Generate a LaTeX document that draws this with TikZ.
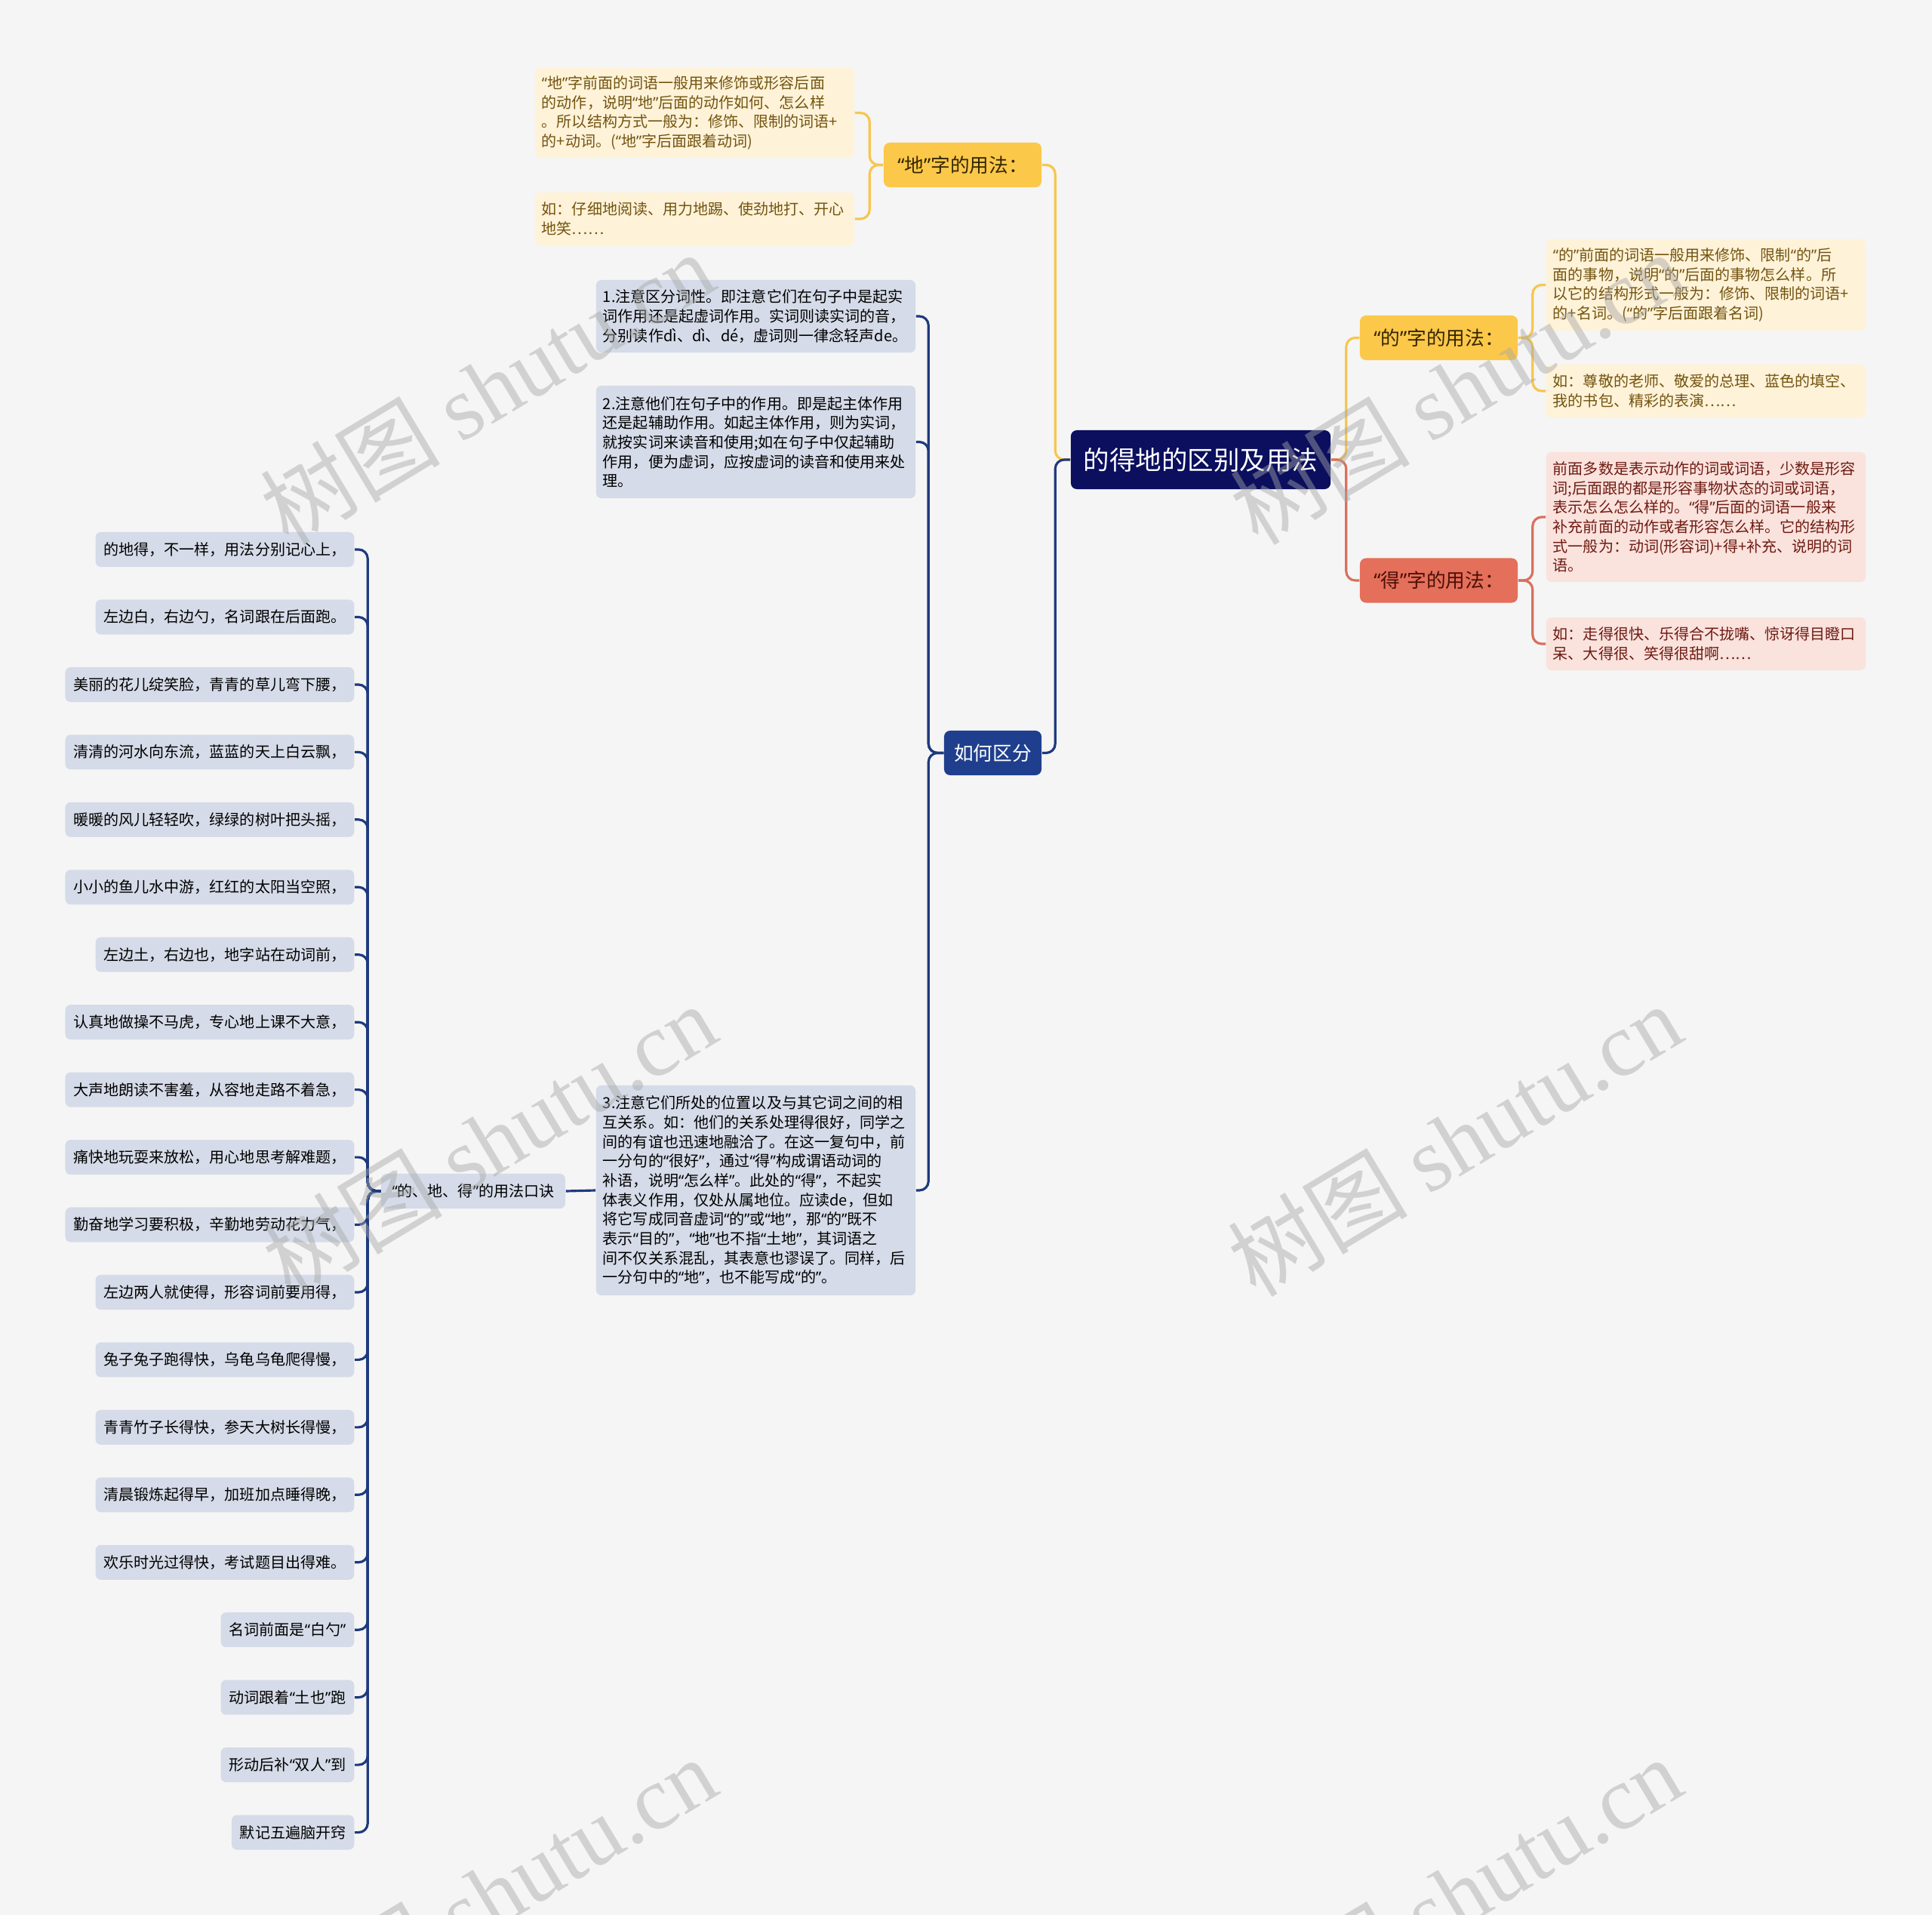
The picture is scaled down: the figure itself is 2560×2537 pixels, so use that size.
\documentclass[tikz,border=0pt]{standalone}
\usepackage{fontspec}
\setmainfont{Noto Sans CJK SC}
\newfontfamily\markfont{Liberation Serif}
\newfontfamily\quotefont{Noto Sans}
\usepackage{xcolor}
\definecolor{paper}{HTML}{F5F5F5}
\definecolor{rootcol}{HTML}{0B0F5E}
\definecolor{howcol}{HTML}{1F3F8E}
\definecolor{navyline}{HTML}{1E3A7E}
\definecolor{greyblue}{HTML}{D5DBE8}
\definecolor{gold}{HTML}{FCC84A}
\definecolor{goldline}{HTML}{F6C64F}
\definecolor{goldtext}{HTML}{332600}
\definecolor{cream}{HTML}{FEF2D8}
\definecolor{creamtext}{HTML}{735410}
\definecolor{salmon}{HTML}{E46F5A}
\definecolor{salmonline}{HTML}{D8705D}
\definecolor{salmontext}{HTML}{4A1008}
\definecolor{blush}{HTML}{FAE2DD}
\definecolor{blushtext}{HTML}{6E1B12}
\usepackage{tikz}
\usetikzlibrary{positioning}
\tikzset{%
    branch/.style={%
        rounded corners=0.08cm, inner sep=0, font=\fontsize{7.3}{9}\selectfont,
        minimum width=2.09cm, minimum height=0.59cm
    },
    note/.style={%
        rounded corners=0.07cm, inner xsep=0.09cm, inner ysep=0, text width=4.05cm,
        align=left, font=\fontsize{5.7}{7.3}\selectfont
    },
    verse/.style={%
        fill=greyblue, rounded corners=0.07cm, inner xsep=0.11cm, inner ysep=0,
        minimum height=0.46cm, anchor=east, font=\fontsize{5.7}{7.3}\selectfont
    },
    link/.style={%
        line width=0.9pt, rounded corners=0.12cm
    },
    watermark/.style={%
        rotate=31, text=black!35, text opacity=0.45, font=\fontsize{34}{40}\selectfont
    }
}
% narrow curly quotes, as in the mind map
\catcode`“=\active
\catcode`”=\active
\def“{{\quotefont\char"201C}}
\def”{{\quotefont\char"201D}}

\begin{document}
\begin{tikzpicture}[x=0.01cm, y=-0.01cm]
    \fill[paper] (0,0) rectangle (2560,2537);
    \useasboundingbox (0,0) rectangle (2560,2537);

    \node[fill=rootcol, text=white, rounded corners=0.08cm, inner sep=0, minimum width=3.44cm, minimum height=0.78cm, font=\fontsize{9.8}{12}\selectfont] (root) at (1591,609) {的得地的区别及用法};

    % main branches
    \node[branch, fill=gold, text=goldtext] (di) at (1275.5,218.5) {“地”字的用法：};
    \node[branch, fill=gold, text=goldtext] (de) at (1906.5,447.5) {“的”字的用法：};
    \node[branch, fill=salmon, text=salmontext] (dei) at (1906.5,769) {“得”字的用法：};
    \node[branch, fill=howcol, text=white, minimum width=1.29cm] (how) at (1315.5,997.5) {如何区分};

    \node[note, fill=cream, text=creamtext, minimum height=1.19cm] (di1) at (920.5,149.5) {“地”字前面的词语一般用来修饰或形容后面\\的动作，说明“地”后面的动作如何、怎么样\\。所以结构方式一般为：修饰、限制的词语+\\的+动词。(“地”字后面跟着动词)};
    \node[note, fill=cream, text=creamtext, minimum height=0.70cm] (di2) at (920.5,290) {如：仔细地阅读、用力地踢、使劲地打、开心\\地笑……};
    \node[note, fill=cream, text=creamtext, minimum height=1.21cm] (de1) at (2260.5,377.5) {“的”前面的词语一般用来修饰、限制“的”后\\面的事物，说明“的”后面的事物怎么样。所\\以它的结构形式一般为：修饰、限制的词语+\\的+名词。(“的”字后面跟着名词)};
    \node[note, fill=cream, text=creamtext, minimum height=0.70cm] (de2) at (2260.5,518) {如：尊敬的老师、敬爱的总理、蓝色的填空、\\我的书包、精彩的表演……};
    \node[note, fill=blush, text=blushtext, minimum height=1.72cm] (dei1) at (2260.5,685) {前面多数是表示动作的词或词语，少数是形容\\词;后面跟的都是形容事物状态的词或词语，\\表示怎么怎么样的。“得”后面的词语一般来\\补充前面的动作或者形容怎么样。它的结构形\\式一般为：动词(形容词)+得+补充、说明的词\\语。};
    \node[note, fill=blush, text=blushtext, minimum height=0.70cm] (dei2) at (2260.5,853) {如：走得很快、乐得合不拢嘴、惊讶得目瞪口\\呆、大得很、笑得很甜啊……};

    \node[note, fill=greyblue, minimum height=0.96cm] (how1) at (1001.5,419) {1.注意区分词性。即注意它们在句子中是起实\\词作用还是起虚词作用。实词则读实词的音，\\分别读作dì、dì、dé，虚词则一律念轻声de。};
    \node[note, fill=greyblue, minimum height=1.49cm] (how2) at (1001.5,585.5) {2.注意他们在句子中的作用。即是起主体作用\\还是起辅助作用。如起主体作用，则为实词，\\就按实词来读音和使用;如在句子中仅起辅助\\作用，便为虚词，应按虚词的读音和使用来处\\理。};
    \node[note, fill=greyblue, minimum height=2.78cm] (how3) at (1001.5,1577) {3.注意它们所处的位置以及与其它词之间的相\\互关系。如：他们的关系处理得很好，同学之\\间的有谊也迅速地融洽了。在这一复句中，前\\一分句的“很好”，通过“得”构成谓语动词的\\补语，说明“怎么样”。此处的“得”，不起实\\体表义作用，仅处从属地位。应读de，但如\\将它写成同音虚词“的”或“地”，那“的”既不\\表示“目的”，“地”也不指“土地”，其词语之\\间不仅关系混乱，其表意也谬误了。同样，后\\一分句中的“地”，也不能写成“的”。};

    \node[verse, anchor=center, minimum width=2.44cm] (rhyme) at (627,1578) {“的、地、得”的用法口诀};

    % rhyme lines
    \node[verse] (r1) at (470,728) {的地得，不一样，用法分别记心上，};
    \node[verse] (r2) at (470,817.5) {左边白，右边勺，名词跟在后面跑。};
    \node[verse] (r3) at (470,907) {美丽的花儿绽笑脸，青青的草儿弯下腰，};
    \node[verse] (r4) at (470,996.4) {清清的河水向东流，蓝蓝的天上白云飘，};
    \node[verse] (r5) at (470,1085.8) {暖暖的风儿轻轻吹，绿绿的树叶把头摇，};
    \node[verse] (r6) at (470,1175.3) {小小的鱼儿水中游，红红的太阳当空照，};
    \node[verse] (r7) at (470,1264.7) {左边土，右边也，地字站在动词前，};
    \node[verse] (r8) at (470,1354.2) {认真地做操不马虎，专心地上课不大意，};
    \node[verse] (r9) at (470,1443.6) {大声地朗读不害羞，从容地走路不着急，};
    \node[verse] (r10) at (470,1533.1) {痛快地玩耍来放松，用心地思考解难题，};
    \node[verse] (r11) at (470,1622.5) {勤奋地学习要积极，辛勤地劳动花力气，};
    \node[verse] (r12) at (470,1712) {左边两人就使得，形容词前要用得，};
    \node[verse] (r13) at (470,1801.4) {兔子兔子跑得快，乌龟乌龟爬得慢，};
    \node[verse] (r14) at (470,1890.9) {青青竹子长得快，参天大树长得慢，};
    \node[verse] (r15) at (470,1980.3) {清晨锻炼起得早，加班加点睡得晚，};
    \node[verse] (r16) at (470,2069.8) {欢乐时光过得快，考试题目出得难。};
    \node[verse] (r17) at (470,2159.2) {名词前面是“白勺”};
    \node[verse] (r18) at (470,2248.7) {动词跟着“土也”跑};
    \node[verse] (r19) at (470,2338.1) {形动后补“双人”到};
    \node[verse] (r20) at (470,2427.6) {默记五遍脑开窍};

    % connectors
    \draw[link, goldline] (root.west) -- ++(-20,0) |- (di.east);
    \draw[link, navyline] (root.west) -- ++(-20,0) |- (how.east);
    \draw[link, goldline] (root.east) -- ++(20,0) |- (de.west);
    \draw[link, salmonline] (root.east) -- ++(20,0) |- (dei.west);
    \draw[link, goldline] (di.west) -- ++(-18,0) |- (di1.east);
    \draw[link, goldline] (di.west) -- ++(-18,0) |- (di2.east);
    \draw[link, goldline] (de.east) -- ++(19,0) |- (de1.west);
    \draw[link, goldline] (de.east) -- ++(19,0) |- (de2.west);
    \draw[link, salmonline] (dei.east) -- ++(19,0) |- (dei1.west);
    \draw[link, salmonline] (dei.east) -- ++(19,0) |- (dei2.west);
    \draw[link, navyline] (how.west) -- ++(-20,0) |- (how1.east);
    \draw[link, navyline] (how.west) -- ++(-20,0) |- (how2.east);
    \draw[link, navyline] (how.west) -- ++(-20,0) |- (how3.east);
    \draw[link, navyline] (how3.west) -- (rhyme.east);
    \foreach \i in {1,...,20}
        \draw[link, navyline] (rhyme.west) -- ++(-17,0) |- (r\i.east);

    % watermarks
    \node[watermark] (wm1) at (645,514) {树图 {\markfont shutu.cn}};
    \node[watermark] (wm2) at (1930,514) {树图 {\markfont shutu.cn}};
    \node[watermark] (wm3) at (648,1510) {树图 {\markfont shutu.cn}};
    \node[watermark] (wm4) at (1927,1510) {树图 {\markfont shutu.cn}};
    \node[watermark] (wm5) at (648,2508) {树图 {\markfont shutu.cn}};
    \node[watermark] (wm6) at (1927,2508) {树图 {\markfont shutu.cn}};
\end{tikzpicture}
\end{document}
